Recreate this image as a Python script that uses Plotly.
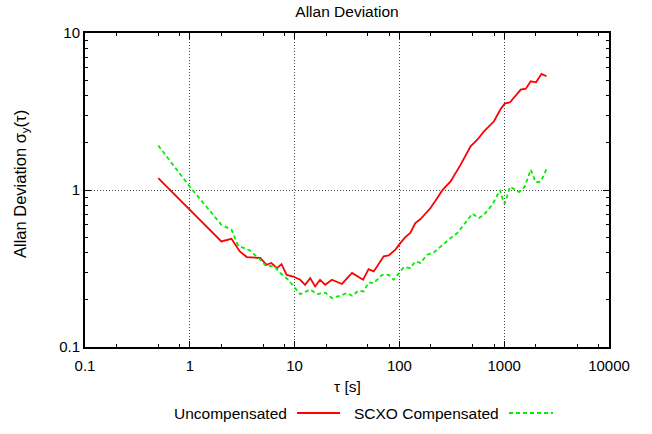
import plotly.graph_objects as go

# ---- data ----
tau_uncomp = [0.5, 1.0, 2.0, 2.5, 3.0, 3.5, 4.7, 5.4, 6.0, 6.8, 7.5, 8.4, 9.7, 11.3, 12.6,
              14.1, 15.7, 17.5, 19.6, 22.7, 28.3, 35.3, 42.4, 45.0, 50.8, 56.8, 61.2, 70.8,
              79.0, 91.6, 102, 114, 127, 142, 159, 198, 230, 256, 308, 384, 478, 554, 641,
              799, 926, 1012, 1137, 1242, 1439, 1607, 1794, 2015, 2268, 2534]
sig_uncomp = [1.19, 0.75, 0.47, 0.489, 0.406, 0.374, 0.369, 0.334, 0.343, 0.318, 0.337, 0.288,
              0.281, 0.268, 0.249, 0.275, 0.243, 0.268, 0.249, 0.268, 0.252, 0.296, 0.275,
              0.268, 0.313, 0.303, 0.326, 0.378, 0.383, 0.417, 0.459, 0.501, 0.532, 0.616,
              0.653, 0.768, 0.889, 0.994, 1.135, 1.45, 1.90, 2.09, 2.36, 2.74, 3.28, 3.55,
              3.62, 3.86, 4.36, 4.42, 4.92, 4.85, 5.49, 5.30]

tau_comp = [0.5, 1.0, 2.0, 2.5, 2.9, 3.75, 4.35, 4.7, 5.4, 6.3, 7.3, 8.7, 10.1, 11.3, 14.1,
            16.3, 19.6, 22.7, 27.3, 31.6, 35.3, 40.8, 45.6, 50.8, 56.8, 68.3, 79.0, 88.2,
            102, 110, 127, 142, 159, 184, 213, 247, 308, 357, 428, 497, 574, 641, 771, 912,
            982, 1012, 1137, 1242, 1386, 1571, 1794, 2000, 2235, 2534]
sig_comp = [1.92, 1.05, 0.601, 0.558, 0.441, 0.412, 0.377, 0.360, 0.326, 0.329, 0.296, 0.268,
            0.237, 0.217, 0.232, 0.217, 0.222, 0.205, 0.212, 0.221, 0.212, 0.229, 0.226,
            0.258, 0.255, 0.288, 0.288, 0.268, 0.303, 0.323, 0.318, 0.351, 0.343, 0.387,
            0.400, 0.437, 0.494, 0.532, 0.616, 0.707, 0.663, 0.696, 0.806, 1.0, 0.846, 0.818,
            1.05, 1.01, 0.971, 1.05, 1.35, 1.12, 1.13, 1.36]

x_ticks = [0.1, 1, 10, 100, 1000, 10000]
x_ticktext = ["0.1", "1", "10", "100", "1000", "10000"]
y_ticks = [0.1, 1, 10]
y_ticktext = ["0.1", "1", "10"]
x_minor = [m * 10 ** e for e in range(-1, 4) for m in (2, 5, 8)]
y_minor = [m * 10 ** e for e in range(-1, 1) for m in range(2, 10)]

names = ["Uncompensated", "SCXO Compensated"]
RED = "#ff0000"
GREEN = "#00ee00"
FONT = "Liberation Sans, Arial, sans-serif"
FS = 15.5

W, H = 652, 434
L, R, T, B = 85, 43, 33, 87
pw, ph = W - L - R, H - T - B

def px_x(px):
    return (px - L) / pw

def px_y(py):
    return (H - B - py) / ph

fig = go.Figure()
fig.add_trace(go.Scatter(x=tau_uncomp, y=sig_uncomp, mode="lines", name=names[0],
                         line=dict(color=RED, width=1.8), showlegend=False))
fig.add_trace(go.Scatter(x=tau_comp, y=sig_comp, mode="lines", name=names[1],
                         line=dict(color=GREEN, width=1.8, dash="4px,3px"), showlegend=False))

axis_common = dict(
    showline=True, linecolor="black", linewidth=2, mirror="allticks",
    ticks="inside", ticklen=6, tickwidth=1, tickcolor="black",
    showgrid=True, gridcolor="#444444", griddash="1px,2px", gridwidth=1,
    zeroline=False, tickfont=dict(family=FONT, size=15, color="black"),
)

fig.update_xaxes(type="log", range=[-1, 4], tickmode="array", tickvals=x_ticks,
                 ticktext=x_ticktext, ticklabelstandoff=4,
                 minor=dict(tickmode="array", tickvals=x_minor, ticks="inside", ticklen=3,
                            tickcolor="black", showgrid=False),
                 **axis_common)
fig.update_yaxes(type="log", range=[-1, 1], tickmode="array", tickvals=y_ticks,
                 ticktext=y_ticktext,
                 minor=dict(tickmode="array", tickvals=y_minor, ticks="inside", ticklen=3,
                            tickcolor="black", showgrid=False),
                 **axis_common)

annotations = [
    dict(text="Allan Deviation σ<sub>y</sub>(τ)", textangle=-90, x=px_x(21), y=px_y(184),
         xref="paper", yref="paper", xanchor="center", yanchor="middle", showarrow=False,
         font=dict(family=FONT, size=16.5, color="black")),
    dict(text="τ [s]", x=0.5, y=px_y(386), xref="paper", yref="paper",
         xanchor="center", yanchor="middle", showarrow=False,
         font=dict(family=FONT, size=FS, color="black")),
    dict(text=names[0], x=px_x(289), y=px_y(413), xref="paper", yref="paper",
         xanchor="right", yanchor="middle", showarrow=False,
         font=dict(family=FONT, size=FS, color="black")),
    dict(text=names[1], x=px_x(501), y=px_y(413), xref="paper", yref="paper",
         xanchor="right", yanchor="middle", showarrow=False,
         font=dict(family=FONT, size=FS, color="black")),
]
shapes = [
    dict(type="line", xref="paper", yref="paper", x0=px_x(297), x1=px_x(340),
         y0=px_y(413), y1=px_y(413), line=dict(color=RED, width=1.8)),
    dict(type="line", xref="paper", yref="paper", x0=px_x(509), x1=px_x(553),
         y0=px_y(413), y1=px_y(413), line=dict(color=GREEN, width=1.8, dash="4px,3px")),
]

fig.update_layout(
    width=W, height=H,
    margin=dict(l=L, r=R, t=T, b=B, pad=0),
    paper_bgcolor="white", plot_bgcolor="white",
    title=dict(text="Allan Deviation", x=0.5, xref="paper", xanchor="center",
               y=1 - 12 / H, yref="container", yanchor="middle",
               font=dict(family=FONT, size=FS, color="black")),
    annotations=annotations, shapes=shapes,
    showlegend=False,
)

fig.write_html("out.html")
